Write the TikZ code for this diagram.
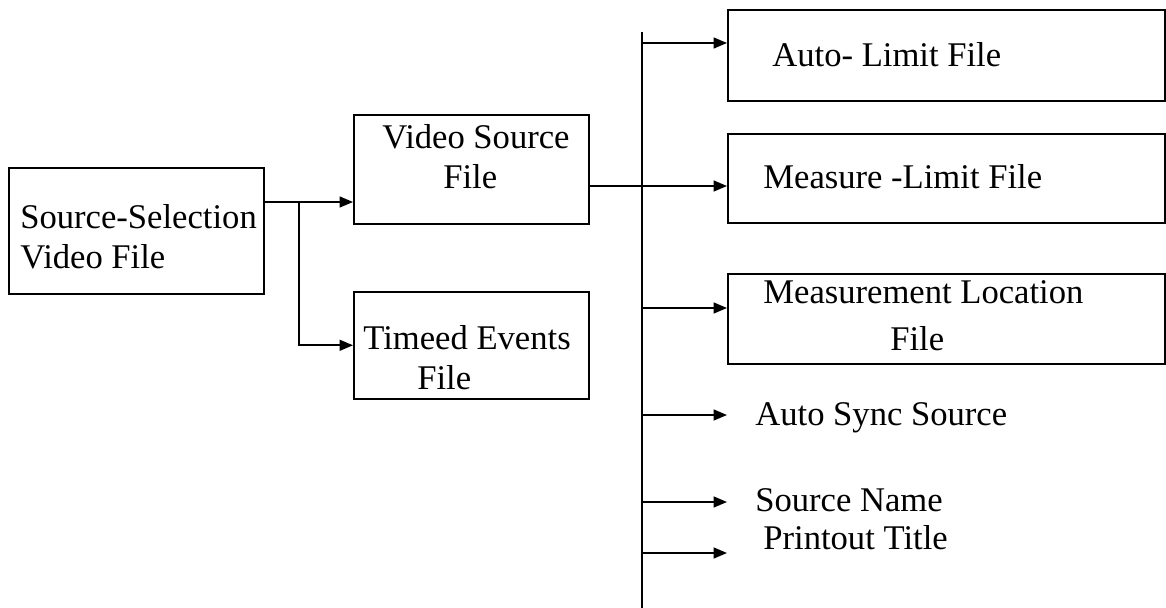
\documentclass[tikz,border=0pt]{standalone}
\usepackage{fontspec}
\setmainfont{Liberation Serif}
\usetikzlibrary{positioning, arrows.meta, calc}

\begin{document}
\begin{tikzpicture}[x=0.02cm, y=-0.02cm,
    box/.style={draw, line width=0.9pt, inner sep=0pt, anchor=north west},
    txt/.style={inner sep=0pt, anchor=west, align=left, font=\fontsize{19.7}{22.7}\selectfont},
    arr/.style={line width=0.9pt, -{Triangle[length=0.27cm, width=0.22cm]}}]
    \useasboundingbox (0,0) rectangle (1166,608);

    % Left and middle boxes
    \node[box, minimum width=5.10cm, minimum height=2.52cm] (sel) at (8,167) {};
    \node[box, minimum width=4.70cm, minimum height=2.18cm] (vid) at (353,114) {};
    \node[box, minimum width=4.70cm, minimum height=2.14cm] (tim) at (353,291) {};

    \node[txt] (selTxt) at (20,237) {Source-Selection\\Video File};
    \node[txt] (vidTxt) at (382,157) {Video Source\\\hspace*{1.22cm}File};
    \node[txt] (timTxt) at (363,358) {Timeed Events\\\hspace*{1.08cm}File};

    % Right boxes
    \node[box, minimum width=8.74cm, minimum height=1.82cm] (auto) at (727,9) {};
    \node[box, minimum width=8.74cm, minimum height=1.78cm] (meas) at (727,133) {};
    \node[box, minimum width=8.74cm, minimum height=1.80cm] (loc) at (727,273) {};

    \node[txt] (autoTxt) at (772,55) {Auto- Limit File};
    \node[txt] (measTxt) at (763,177) {Measure -Limit File};
    \node[txt] (locTxt) at (763,316) {Measurement Location\\[3.9pt]\hspace*{2.54cm}File};

    % Plain items on the bus
    \node[txt] (sync) at (755,418) {Auto Sync Source};
    \node[txt] (name) at (755,500) {Source Name};
    \node[txt] (title) at (763,538) {Printout Title};

    % Split after the selection box
    \coordinate (selOut) at (263,202);
    \coordinate (split) at (299,202);
    \coordinate (vidIn) at (353,202);
    \draw[arr] (selOut) -- (vidIn);
    \draw[arr] (split) |- (tim.west);

    % Vertical bus
    \coordinate (busTop) at (642,32);
    \coordinate (busEnd) at (642,608);
    \draw[line width=1.2pt] (busTop) -- (busEnd);

    % Video source into the bus
    \coordinate (vidOut) at (588,186);
    \coordinate (measIn) at (727,186);
    \draw[line width=0.9pt] (vidOut) -- (busTop |- vidOut);
    \draw[arr] (busTop |- measIn) -- (measIn);

    % Branches off the bus
    \coordinate (autoIn) at (727,43);
    \coordinate (locIn) at (727,308);
    \coordinate (syncIn) at (727,415);
    \coordinate (nameIn) at (727,502);
    \coordinate (titleIn) at (727,553);
    \foreach \p in {autoIn, locIn, syncIn, nameIn, titleIn} {
        \draw[arr] (busTop |- \p) -- (\p);
    }

\end{tikzpicture}
\end{document}
